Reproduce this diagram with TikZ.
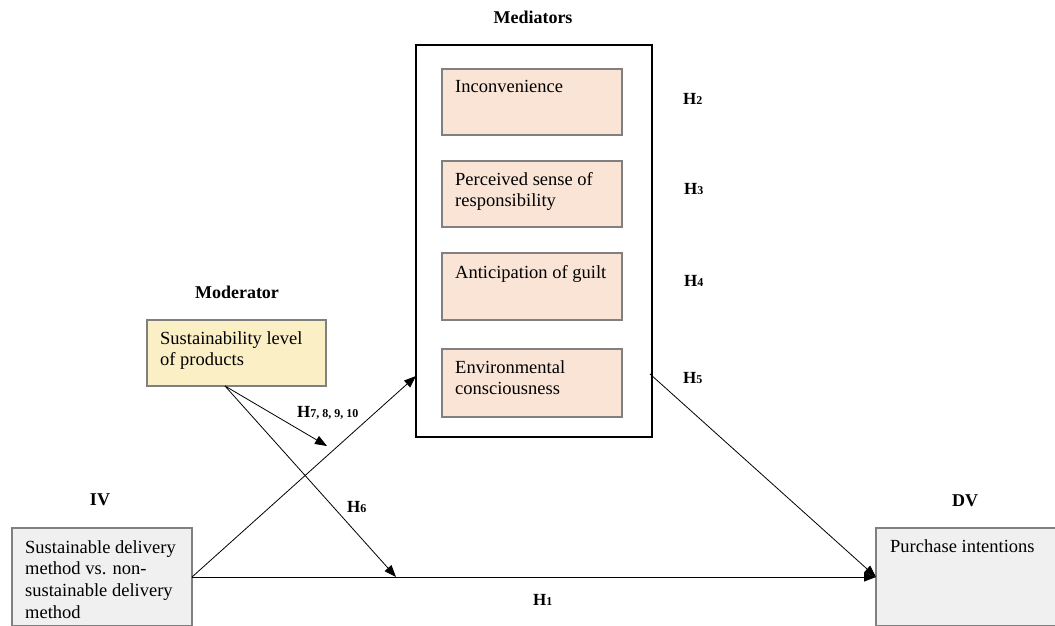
\documentclass[tikz,border=0pt]{standalone}
\usepackage{fontspec}
\setmainfont{Liberation Serif}
\usetikzlibrary{arrows.meta}
\definecolor{medfill}{RGB}{249,228,214}
\definecolor{modfill}{RGB}{251,239,197}
\definecolor{varfill}{RGB}{240,240,240}
\definecolor{boxline}{RGB}{128,128,128}
\newcommand\hypsub[1]{{\fontsize{12}{12}\selectfont #1}}
\begin{document}
\begin{tikzpicture}[x=1pt,y=-1pt,
  box/.style={draw=boxline, line width=1.1pt, anchor=north west, inner sep=0pt, outer sep=0pt},
  txt/.style={anchor=north west, inner sep=0pt, align=left, font=\fontsize{18.5}{21.7}\selectfont},
  head/.style={font=\fontsize{18}{20}\bfseries\selectfont, inner sep=0pt},
  hyp/.style={font=\fontsize{17}{18}\bfseries\selectfont, inner sep=0pt, anchor=west},
  arr/.style={line width=0.8pt, -{Triangle[length=12pt,width=9pt]}},
]
\useasboundingbox (0,0) rectangle (1055,625);
\fill[white] (0,0) rectangle (1055,625);

% Mediators
\node[head] (medlab) at (533,17) {Mediators};
\node[draw=black, line width=1.8pt, anchor=north west, inner sep=0pt, outer sep=0pt,
      minimum width=236pt, minimum height=392pt] (med) at (416,45) {};
\node[box, fill=medfill, minimum width=180pt, minimum height=66pt] (m1) at (442,69) {};
\node[box, fill=medfill, minimum width=180pt, minimum height=66pt] (m2) at (442,161) {};
\node[box, fill=medfill, minimum width=180pt, minimum height=67pt] (m3) at (442,253) {};
\node[box, fill=medfill, minimum width=180pt, minimum height=68pt] (m4) at (442,349) {};
\node[txt] (t1) at (455,80) {Inconvenience};
\node[txt] (t2) at (455,172) {Perceived sense of\\responsibility};
\node[txt] (t3) at (455,265) {Anticipation of guilt};
\node[txt] (t4) at (455,360) {Environmental\\consciousness};

\node[hyp] (h2) at (683,99) {H\hypsub{2}};
\node[hyp] (h3) at (684,189) {H\hypsub{3}};
\node[hyp] (h4) at (684,281) {H\hypsub{4}};
\node[hyp] (h5) at (683,378) {H\hypsub{5}};

% Moderator
\node[head] (modlab) at (237,292) {Moderator};
\node[box, fill=modfill, minimum width=179pt, minimum height=66pt] (mod) at (147,320) {};
\node[txt] (tmod) at (160,331) {Sustainability level\\of products};

% IV
\node[head] (ivlab) at (100,500) {IV};
\node[box, fill=varfill, minimum width=180pt, minimum height=98pt] (iv) at (12,528) {};
\node[txt] (tiv) at (25,540) {Sustainable delivery\\method vs. non-\\sustainable delivery\\method};

% DV
\node[head] (dvlab) at (965,501) {DV};
\node[box, fill=varfill, minimum width=190pt, minimum height=98pt] (dv) at (876,528) {};
\node[txt] (tdv) at (890,539) {Purchase intentions};

% connectors
\coordinate (medin) at (416,376);
\coordinate (medout) at (650,374);
\coordinate (modout) at (225,386);
\coordinate (tip1) at (327,446);
\coordinate (tip2) at (396,577);

\draw[arr] (iv.east) -- (medin);
\draw[arr] (iv.east) -- (dv.west);
\draw[arr] (medout) -- (dv.west);
\draw[arr] (modout) -- (tip1);
\draw[arr] (modout) -- (tip2);

\node[hyp] (h6) at (347,507) {H\hypsub{6}};
\node[hyp] (h7) at (297,413) {H\hypsub{7, 8, 9, 10}};
\node[hyp] (h1) at (533,600) {H\hypsub{1}};
\end{tikzpicture}
\end{document}
